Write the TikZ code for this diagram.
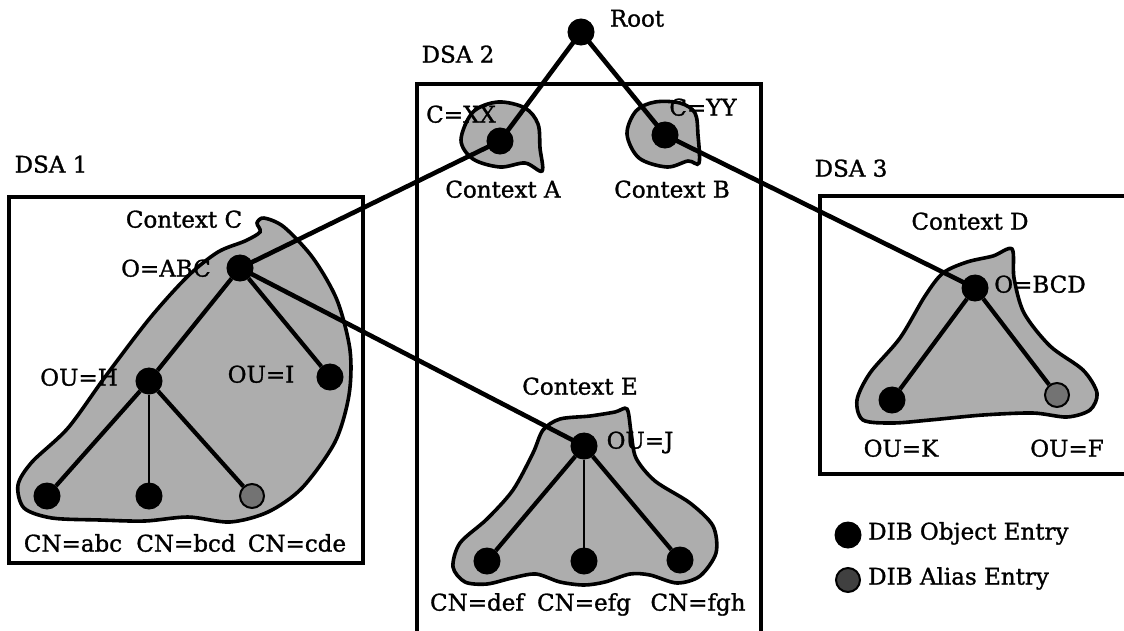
\documentclass[tikz,border=0pt]{standalone}
\usepackage{fontspec}
\setmainfont{DejaVu Serif}
\newfontfamily\labfont{DejaVu Serif}[FakeBold=1.2]
\begin{document}
\begin{tikzpicture}[x=1pt,y=-1pt,
  obj/.style={circle,fill=black,draw=black,line width=1pt,minimum size=26pt,inner sep=0pt},
  alias/.style={circle,fill=black!55,draw=black,line width=2pt,minimum size=24pt,inner sep=0pt},
  link/.style={line width=4.6pt},
  edge/.style={line width=4.2pt},
  thinedge/.style={line width=2.6pt},
  dsabox/.style={line width=3.2pt},
  blob/.style={fill=black!32,draw=black,line width=3.6pt},
  lab/.style={font=\labfont\fontsize{23}{27}\selectfont,inner sep=0pt,anchor=mid}]
\useasboundingbox (0,0) rectangle (1124,630);
\clip (0,0) rectangle (1124,630);
\fill[white] (0,0) rectangle (1124,630);
% DSA boxes
\draw[dsabox] (9,197) rectangle (363,563);
\draw[dsabox] (417,640) -- (417,84) -- (761,84) -- (761,640);
\draw[dsabox] (1140,196) -- (820,196) -- (820,474) -- (1140,474);
% Context blobs
\draw[blob] plot[smooth cycle,tension=0.55] coordinates {
  (461,140) (473,112) (498,102) (525,108) (538,124) (540,148) (542,171)
  (525,163) (500,167) (473,159)};
\draw[blob] plot[smooth cycle,tension=0.55] coordinates {
  (627,134) (636,111) (655,102) (680,103) (695,113) (698,135) (699,163)
  (688,161) (667,167) (639,158)};
\draw[blob] plot[smooth cycle,tension=0.5] coordinates {
  (264,218) (284,227) (313,258) (337,300) (350,350) (349,395) (335,442)
  (302,488) (268,512) (230,522) (188,517) (145,521) (100,520) (52,518)
  (24,508) (18,485) (32,462) (68,428) (105,377) (150,318) (188,276)
  (218,252) (245,241) (260,232) (257,223)};
\draw[blob] plot[smooth cycle,tension=0.5] coordinates {
  (543,430) (560,419) (590,416) (615,412) (627,409) (631,432) (636,458)
  (655,481) (690,503) (713,526) (716,553) (700,576) (677,583) (650,575)
  (630,574) (605,582) (584,585) (560,582) (536,574) (512,578) (487,584)
  (465,582) (453,567) (460,543) (487,519) (513,490) (533,453)};
\draw[blob] plot[smooth cycle,tension=0.5] coordinates {
  (943,273) (967,262) (993,256) (1012,249) (1014,278) (1024,313) (1050,346)
  (1083,370) (1097,393) (1090,410) (1067,417) (1033,413) (983,415) (930,420)
  (893,423) (863,420) (857,400) (870,373) (900,338) (925,296)};
% nodes
\node[obj] (root) at (581,32) {};
\node[obj] (ctxA) at (500,141) {};
\node[obj] (ctxB) at (665,135) {};
\node[obj] (oabc) at (240,268) {};
\node[obj] (ouh) at (149,381) {};
\node[obj] (oui) at (330,377) {};
\node[obj] (cnabc) at (47,496) {};
\node[obj] (cnbcd) at (149,496) {};
\node[alias] (cncde) at (252,496) {};
\node[obj] (ouj) at (584,446) {};
\node[obj] (cndef) at (487,561) {};
\node[obj] (cnefg) at (584,561) {};
\node[obj] (cnfgh) at (680,560) {};
\node[obj] (obcd) at (975,288) {};
\node[obj] (ouk) at (892,400) {};
\node[alias] (ouf) at (1057,395) {};
\node[obj] (legobj) at (848,535) {};
\node[alias,fill=black!75] (legalias) at (848,580) {};
% connectors
\draw[link] (root.center) -- (ctxA.center);
\draw[link] (root.center) -- (ctxB.center);
\draw[link] (ctxA.center) -- (oabc.center);
\draw[link] (ctxB.center) -- (obcd.center);
\draw[link] (oabc.center) -- (ouj.center);
\draw[edge] (oabc) -- (ouh);
\draw[edge] (oabc) -- (oui);
\draw[edge] (ouh) -- (cnabc);
\draw[thinedge] (ouh) -- (cnbcd);
\draw[edge] (ouh) -- (cncde);
\draw[edge] (ouj) -- (cndef);
\draw[thinedge] (ouj) -- (cnefg);
\draw[edge] (ouj) -- (cnfgh);
\draw[edge] (obcd) -- (ouk);
\draw[edge] (obcd) -- (ouf);
% redraw dots on top of connectors
\foreach \n in {root,ctxA,ctxB,oabc,ouj,obcd}
  \fill (\n) circle (13pt);
% labels
\node[lab] (tRoot) at (637,24) {Root};
\node[lab] (tDSA1) at (51,170) {DSA 1};
\node[lab] (tDSA2) at (458,60) {DSA 2};
\node[lab] (tDSA3) at (851,174) {DSA 3};
\node[lab] (tCXX) at (461,120) {C=XX};
\node[lab] (tCYY) at (703,113) {C=YY};
\node[lab] (tCtxA) at (503,195) {Context A};
\node[lab] (tCtxB) at (672,195) {Context B};
\node[lab] (tCtxC) at (184,225) {Context C};
\node[lab] (tOABC) at (166,274) {O=ABC};
\node[lab] (tOUH) at (79,383) {OU=H};
\node[lab] (tOUI) at (261,380) {OU=I};
\node[lab] (tabc) at (73,549) {CN=abc};
\node[lab] (tbcd) at (186,549) {CN=bcd};
\node[lab] (tcde) at (297,549) {CN=cde};
\node[lab] (tCtxE) at (580,392) {Context E};
\node[lab] (tOUJ) at (640,446) {OU=J};
\node[lab] (tdef) at (477,608) {CN=def};
\node[lab] (tefg) at (584,608) {CN=efg};
\node[lab] (tfgh) at (698,608) {CN=fgh};
\node[lab] (tCtxD) at (970,227) {Context D};
\node[lab] (tOBCD) at (1040,290) {O=BCD};
\node[lab] (tOUK) at (901,454) {OU=K};
\node[lab] (tOUF) at (1067,454) {OU=F};
\node[lab,anchor=mid west] (tLobj) at (868,537) {DIB Object Entry};
\node[lab,anchor=mid west] (tLalias) at (868,582) {DIB Alias Entry};
\end{tikzpicture}
\end{document}
